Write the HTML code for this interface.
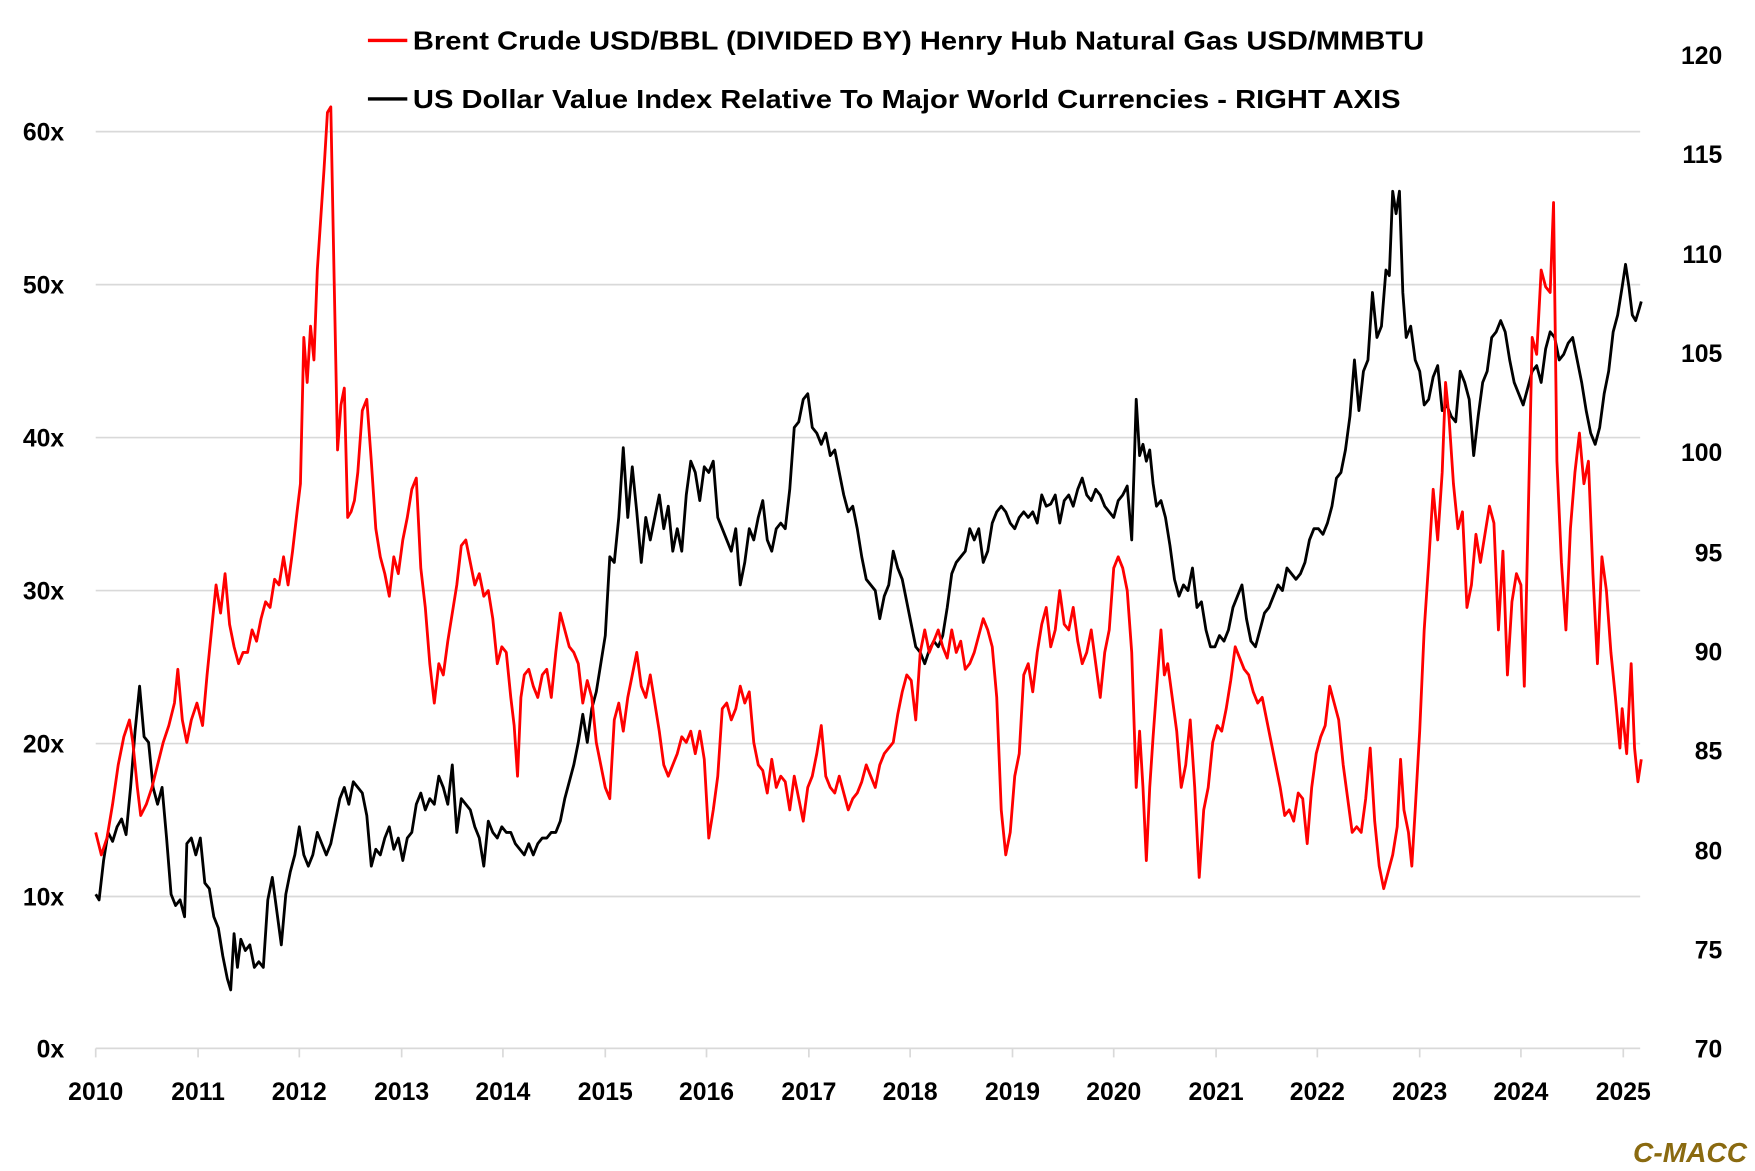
<!DOCTYPE html>
<html><head><meta charset="utf-8"><style>
html,body{margin:0;padding:0;background:#fff;}
svg{display:block;}
text{font-family:"Liberation Sans",sans-serif;font-weight:bold;fill:#000;}
</style></head><body>
<svg width="1755" height="1171" viewBox="0 0 1560 1041" xmlns="http://www.w3.org/2000/svg">
<g stroke="#d9d9d9" stroke-width="1.5">
<line x1="85" x2="1458" y1="117" y2="117"/><line x1="85" x2="1458" y1="253" y2="253"/>
<line x1="85" x2="1458" y1="389" y2="389"/><line x1="85" x2="1458" y1="525" y2="525"/>
<line x1="85" x2="1458" y1="661" y2="661"/><line x1="85" x2="1458" y1="797" y2="797"/>
<line x1="85" x2="1458" y1="932" y2="932"/>
</g>
<g stroke="#d9d9d9" stroke-width="1.5">
<line x1="85" x2="85" y1="932" y2="940"/><line x1="176" x2="176" y1="932" y2="940"/><line x1="266" x2="266" y1="932" y2="940"/><line x1="357" x2="357" y1="932" y2="940"/><line x1="447" x2="447" y1="932" y2="940"/><line x1="538" x2="538" y1="932" y2="940"/><line x1="628" x2="628" y1="932" y2="940"/><line x1="719" x2="719" y1="932" y2="940"/><line x1="809" x2="809" y1="932" y2="940"/><line x1="900" x2="900" y1="932" y2="940"/><line x1="990" x2="990" y1="932" y2="940"/><line x1="1081" x2="1081" y1="932" y2="940"/><line x1="1171" x2="1171" y1="932" y2="940"/><line x1="1262" x2="1262" y1="932" y2="940"/><line x1="1352" x2="1352" y1="932" y2="940"/><line x1="1443" x2="1443" y1="932" y2="940"/>
</g>
<g font-size="22" text-anchor="end">
<text x="57" y="125">60x</text><text x="57" y="261">50x</text><text x="57" y="397">40x</text><text x="57" y="533">30x</text><text x="57" y="669">20x</text><text x="57" y="805">10x</text><text x="57" y="940">0x</text>
</g>
<g font-size="22" text-anchor="end">
<text x="1531" y="57">120</text><text x="1531" y="145">115</text><text x="1531" y="234">110</text><text x="1531" y="322">105</text><text x="1531" y="410">100</text><text x="1531" y="499">95</text><text x="1531" y="587">90</text><text x="1531" y="675">85</text><text x="1531" y="764">80</text><text x="1531" y="852">75</text><text x="1531" y="940">70</text>
</g>
<g font-size="22" text-anchor="middle">
<text x="85" y="978">2010</text><text x="176" y="978">2011</text><text x="266" y="978">2012</text><text x="357" y="978">2013</text><text x="447" y="978">2014</text><text x="538" y="978">2015</text><text x="628" y="978">2016</text><text x="719" y="978">2017</text><text x="809" y="978">2018</text><text x="900" y="978">2019</text><text x="990" y="978">2020</text><text x="1081" y="978">2021</text><text x="1171" y="978">2022</text><text x="1262" y="978">2023</text><text x="1352" y="978">2024</text><text x="1443" y="978">2025</text>
</g>
<polyline fill="none" stroke="#000" stroke-width="2.5" stroke-linejoin="round" points="85,795 88,800 92,765 96,740 100,748 104,735 108,728 112,742 116,700 120,650 124,610 128,655 132,660 136,700 140,715 144,700 148,745 152,795 156,805 160,800 164,815 166,750 170,745 174,760 178,745 182,785 186,790 190,815 194,825 198,850 202,870 205,880 208,830 211,860 214,835 218,845 222,840 226,860 230,855 234,860 238,800 242,780 246,810 250,840 254,795 258,775 262,760 266,735 270,760 274,770 278,760 282,740 286,750 290,760 294,750 298,730 302,710 306,700 310,715 314,695 318,700 322,705 326,725 330,770 334,755 338,760 342,745 346,735 350,755 354,745 358,765 362,745 366,740 370,715 374,705 378,720 382,710 386,715 390,690 394,700 398,715 402,680 406,740 410,710 414,715 418,720 422,735 426,745 430,770 434,730 438,740 442,745 446,735 450,740 454,740 458,750 462,755 466,760 470,750 474,760 478,750 482,745 486,745 490,740 494,740 498,730 502,710 506,695 510,680 514,660 518,635 522,660 526,630 530,615 534,590 538,565 542,495 546,500 550,460 554,398 558,460 562,415 566,455 570,500 574,460 578,480 582,460 586,440 590,470 594,450 598,490 602,470 606,490 610,440 614,410 618,420 622,445 626,415 630,420 634,410 638,460 642,470 646,480 650,490 654,470 658,520 662,500 666,470 670,480 674,460 678,445 682,480 686,490 690,470 694,465 698,470 702,435 706,380 710,375 714,355 718,350 722,380 726,385 730,395 734,385 738,405 742,400 746,420 750,440 754,455 758,450 762,470 766,495 770,515 774,520 778,525 782,550 786,530 790,520 794,490 798,505 802,515 806,535 810,555 814,575 818,580 822,590 826,578 830,570 834,575 838,565 842,540 846,510 850,500 854,495 858,490 862,470 866,480 870,470 874,500 878,490 882,465 886,455 890,450 894,455 898,465 902,470 906,460 910,455 914,460 918,455 922,465 926,440 930,450 934,448 938,440 942,465 946,445 950,440 954,450 958,435 962,425 966,440 970,445 974,435 978,440 982,450 986,455 990,460 994,445 998,440 1002,432 1006,480 1008,420 1010,355 1013,405 1016,395 1019,410 1022,400 1025,430 1028,450 1032,445 1036,460 1040,485 1044,515 1048,530 1052,520 1056,525 1060,505 1064,540 1068,535 1072,560 1076,575 1080,575 1084,565 1088,570 1092,560 1096,540 1100,530 1104,520 1108,550 1112,570 1116,575 1120,560 1124,545 1128,540 1132,530 1136,520 1140,525 1144,505 1148,510 1152,515 1156,510 1160,500 1164,480 1168,470 1172,470 1176,475 1180,465 1184,450 1188,425 1192,420 1196,400 1200,370 1204,320 1208,365 1212,330 1216,320 1220,260 1224,300 1228,290 1232,240 1235,245 1238,170 1241,190 1244,170 1247,260 1250,300 1254,290 1258,320 1262,330 1266,360 1270,355 1274,335 1278,325 1282,365 1286,360 1290,370 1294,375 1298,330 1302,340 1306,355 1310,405 1314,370 1318,340 1322,330 1326,300 1330,295 1334,285 1338,295 1342,320 1346,340 1350,350 1354,360 1358,345 1362,330 1366,325 1370,340 1374,310 1378,295 1382,300 1386,320 1390,315 1394,305 1398,300 1402,320 1406,340 1410,365 1414,385 1418,395 1422,380 1426,350 1430,330 1434,295 1438,280 1442,255 1445,235 1448,255 1451,280 1454,285 1457,275 1459,268"/>
<polyline fill="none" stroke="#ff0000" stroke-width="2.5" stroke-linejoin="round" points="85,740 90,760 95,745 100,715 105,680 110,655 115,640 118,660 122,700 125,725 130,715 135,700 140,680 145,660 150,645 155,625 158,595 162,640 166,660 170,640 175,625 180,645 184,600 188,560 192,520 196,545 200,510 204,555 208,575 212,590 216,580 220,580 224,560 228,570 232,550 236,535 240,540 244,515 248,520 252,495 256,520 260,490 264,455 267,430 270,300 273,340 276,290 279,320 282,240 285,195 288,150 291,100 294,95 297,250 300,400 303,360 306,345 309,460 312,455 315,445 318,420 322,365 326,355 330,410 334,470 338,495 342,510 346,530 350,495 354,510 358,480 362,460 366,435 370,425 374,505 378,540 382,590 386,625 390,590 394,600 398,570 402,545 406,520 410,485 414,480 418,500 422,520 426,510 430,530 434,525 438,550 442,590 446,575 450,580 454,620 457,645 460,690 463,620 466,600 470,595 474,610 478,620 482,600 486,595 490,620 494,580 498,545 502,560 506,575 510,580 514,590 518,625 522,605 526,620 530,660 534,680 538,700 542,710 546,640 550,625 554,650 558,620 562,600 566,580 570,610 574,620 578,600 582,625 586,650 590,680 594,690 598,680 602,670 606,655 610,660 614,650 618,670 622,650 626,675 630,745 634,720 638,690 642,630 646,625 650,640 654,630 658,610 662,625 666,615 670,660 674,680 678,685 682,705 686,675 690,700 694,690 698,695 702,720 706,690 710,710 714,730 718,700 722,690 726,670 730,645 734,690 738,700 742,705 746,690 750,705 754,720 758,710 762,705 766,695 770,680 774,690 778,700 782,680 786,670 790,665 794,660 798,635 802,615 806,600 810,605 814,640 818,580 822,560 826,580 830,570 834,560 838,575 842,585 846,560 850,580 854,570 858,595 862,590 866,580 870,565 874,550 878,560 882,575 886,620 890,720 894,760 898,740 902,690 906,670 910,600 914,590 918,615 922,580 926,555 930,540 934,575 938,560 942,525 946,555 950,560 954,540 958,570 962,590 966,580 970,560 974,590 978,620 982,580 986,560 990,505 994,495 998,505 1002,525 1006,580 1010,700 1013,650 1016,700 1019,765 1022,700 1025,655 1029,600 1032,560 1035,600 1038,590 1042,620 1046,650 1050,700 1054,680 1058,640 1062,700 1066,780 1070,720 1074,700 1078,660 1082,645 1086,650 1090,630 1094,605 1098,575 1102,585 1106,595 1110,600 1114,615 1118,625 1122,620 1126,640 1130,660 1134,680 1138,700 1142,725 1146,720 1150,730 1154,705 1158,710 1162,750 1166,700 1170,670 1174,655 1178,645 1182,610 1186,625 1190,640 1194,680 1198,710 1202,740 1206,735 1210,740 1214,710 1218,665 1222,730 1226,770 1230,790 1234,775 1238,760 1242,735 1245,675 1248,720 1252,740 1255,770 1258,720 1262,650 1266,560 1270,500 1274,435 1278,480 1282,420 1285,340 1288,370 1292,430 1296,470 1300,455 1304,540 1308,520 1312,475 1316,500 1320,475 1324,450 1328,465 1332,560 1336,490 1340,600 1344,535 1348,510 1352,520 1355,610 1358,480 1362,300 1366,315 1370,240 1374,255 1378,260 1381,180 1384,410 1388,500 1392,560 1396,470 1400,420 1404,385 1408,430 1412,410 1416,510 1420,590 1424,495 1428,525 1432,580 1436,620 1440,665 1442,630 1446,670 1450,590 1453,665 1456,695 1459,675"/>
<line x1="327" x2="362" y1="36" y2="36" stroke="#ff0000" stroke-width="3"/>
<line x1="327" x2="362" y1="88" y2="88" stroke="#000" stroke-width="3"/>
<text x="367" y="44" font-size="23" textLength="899" lengthAdjust="spacingAndGlyphs">Brent Crude USD/BBL (DIVIDED BY) Henry Hub Natural Gas USD/MMBTU</text>
<text x="367" y="96" font-size="23" textLength="878" lengthAdjust="spacingAndGlyphs">US Dollar Value Index Relative To Major World Currencies - RIGHT AXIS</text>
<text x="1553" y="1033" font-size="25" font-style="italic" text-anchor="end" style="fill:#8a6a10">C-MACC</text>
</svg>
</body></html>
